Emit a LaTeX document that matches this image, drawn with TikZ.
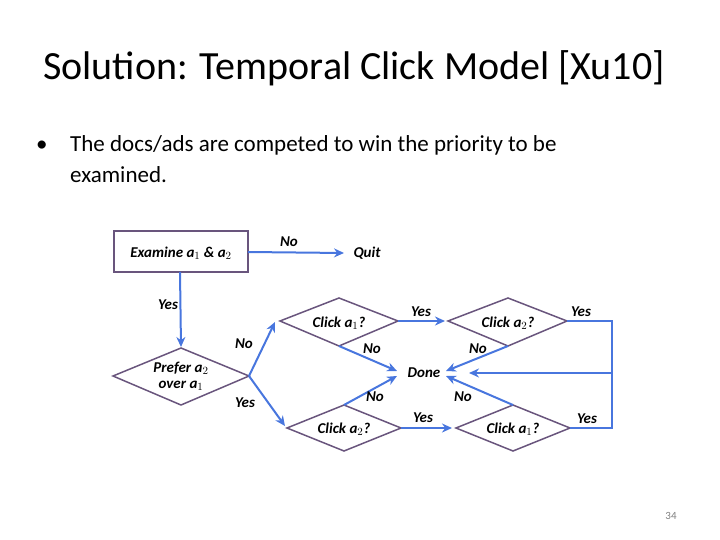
\documentclass[tikz,border=0pt]{standalone}
\usepackage{fontspec}
\setmainfont{Carlito}
\usetikzlibrary{shapes.geometric,arrows.meta}
\definecolor{arr}{RGB}{72,118,222}
\definecolor{shp}{RGB}{105,85,125}
\tikzset{
 lbl/.style={font=\bfseries\itshape\fontsize{15}{16}\selectfont,inner sep=0pt},
 box/.style={draw=shp,line width=1.5pt},
 conn/.style={draw=arr,line width=2pt,-{Stealth[length=10pt,width=9pt]}},
 ln/.style={draw=arr,line width=2pt}
}
\begin{document}
\begin{tikzpicture}[x=1pt,y=-1pt]
\useasboundingbox (0,0) rectangle (720,540);
\node[anchor=base west,font=\fontsize{40}{44}\selectfont,inner sep=0pt] (title) at (43,80) {Solution: Temporal Click Model [Xu10]};
\node[anchor=base west,font=\fontsize{23}{26}\selectfont,inner sep=0pt] (bul) at (36,152) {•};
\node[anchor=base west,font=\fontsize{23}{26}\selectfont,inner sep=0pt] (txt) at (70,152) {The docs/ads are competed to win the priority to be};
\node[anchor=base west,font=\fontsize{23}{26}\selectfont,inner sep=0pt] (txt2) at (70,183) {examined.};
\node[font=\fontsize{11}{12}\selectfont,text=gray] (pg) at (671,516) {34};
% shapes
\draw[box] (114,231) rectangle (248,272);
\node[lbl] (ex) at (181,253) {Examine \textit{a}$_1$ \& \textit{a}$_2$};
\coordinate (exR) at (248,252);
\coordinate (exB) at (180,272);
\node[lbl] (quit) at (367,253) {Quit};
\coordinate (quitW) at (344,253);
\draw[box] (113,376) -- (181,348) -- (249,376) -- (181,405) -- cycle;
\node[lbl,align=center] (pref) at (181,376) {Prefer \textit{a}$_2$\\over \textit{a}$_1$};
\coordinate (prR) at (249,376);
\coordinate (prT) at (181,347);
\draw[box] (280,321) -- (339,298) -- (398,321) -- (339,346) -- cycle;
\node[lbl] (c1) at (339,323) {Click \textit{a}$_1$?};
\draw[box] (448,321) -- (508,298) -- (567,321) -- (508,346) -- cycle;
\node[lbl] (c2) at (508,323) {Click \textit{a}$_2$?};
\draw[box] (287,428) -- (344,405) -- (401,428) -- (344,451) -- cycle;
\node[lbl] (c3) at (344,429) {Click \textit{a}$_2$?};
\draw[box] (456,428) -- (513,405) -- (570,428) -- (513,451) -- cycle;
\node[lbl] (c4) at (513,429) {Click \textit{a}$_1$?};
\node[lbl] (done) at (424,373) {Done};
% connectors
\draw[conn] (exR) -- (quitW);
\draw[conn] (exB) -- (prT);
\draw[conn] (prR) -- (275,322);
\draw[conn] (prR) -- (285,426);
\draw[conn] (398,321) -- (445,321);
\draw[conn] (401,428) -- (452,428);
\draw[conn] (339,346) -- (397,371);
\draw[conn] (344,405) -- (397,376);
\draw[conn] (508,346) -- (446,371);
\draw[conn] (513,405) -- (446,376);
\draw[ln] (567,321) -- (612,321) -- (612,428) -- (570,428);
\draw[conn] (612,373) -- (469,373);
% labels
\node[lbl] at (289,242) {No};
\node[lbl] at (168,305) {Yes};
\node[lbl] at (244,344) {No};
\node[lbl] at (245,403) {Yes};
\node[lbl] at (421,312) {Yes};
\node[lbl] at (581,312) {Yes};
\node[lbl] at (372,349) {No};
\node[lbl] at (478,349) {No};
\node[lbl] at (375,397) {No};
\node[lbl] at (463,397) {No};
\node[lbl] at (423,418) {Yes};
\node[lbl] at (587,419) {Yes};
\end{tikzpicture}
\end{document}
